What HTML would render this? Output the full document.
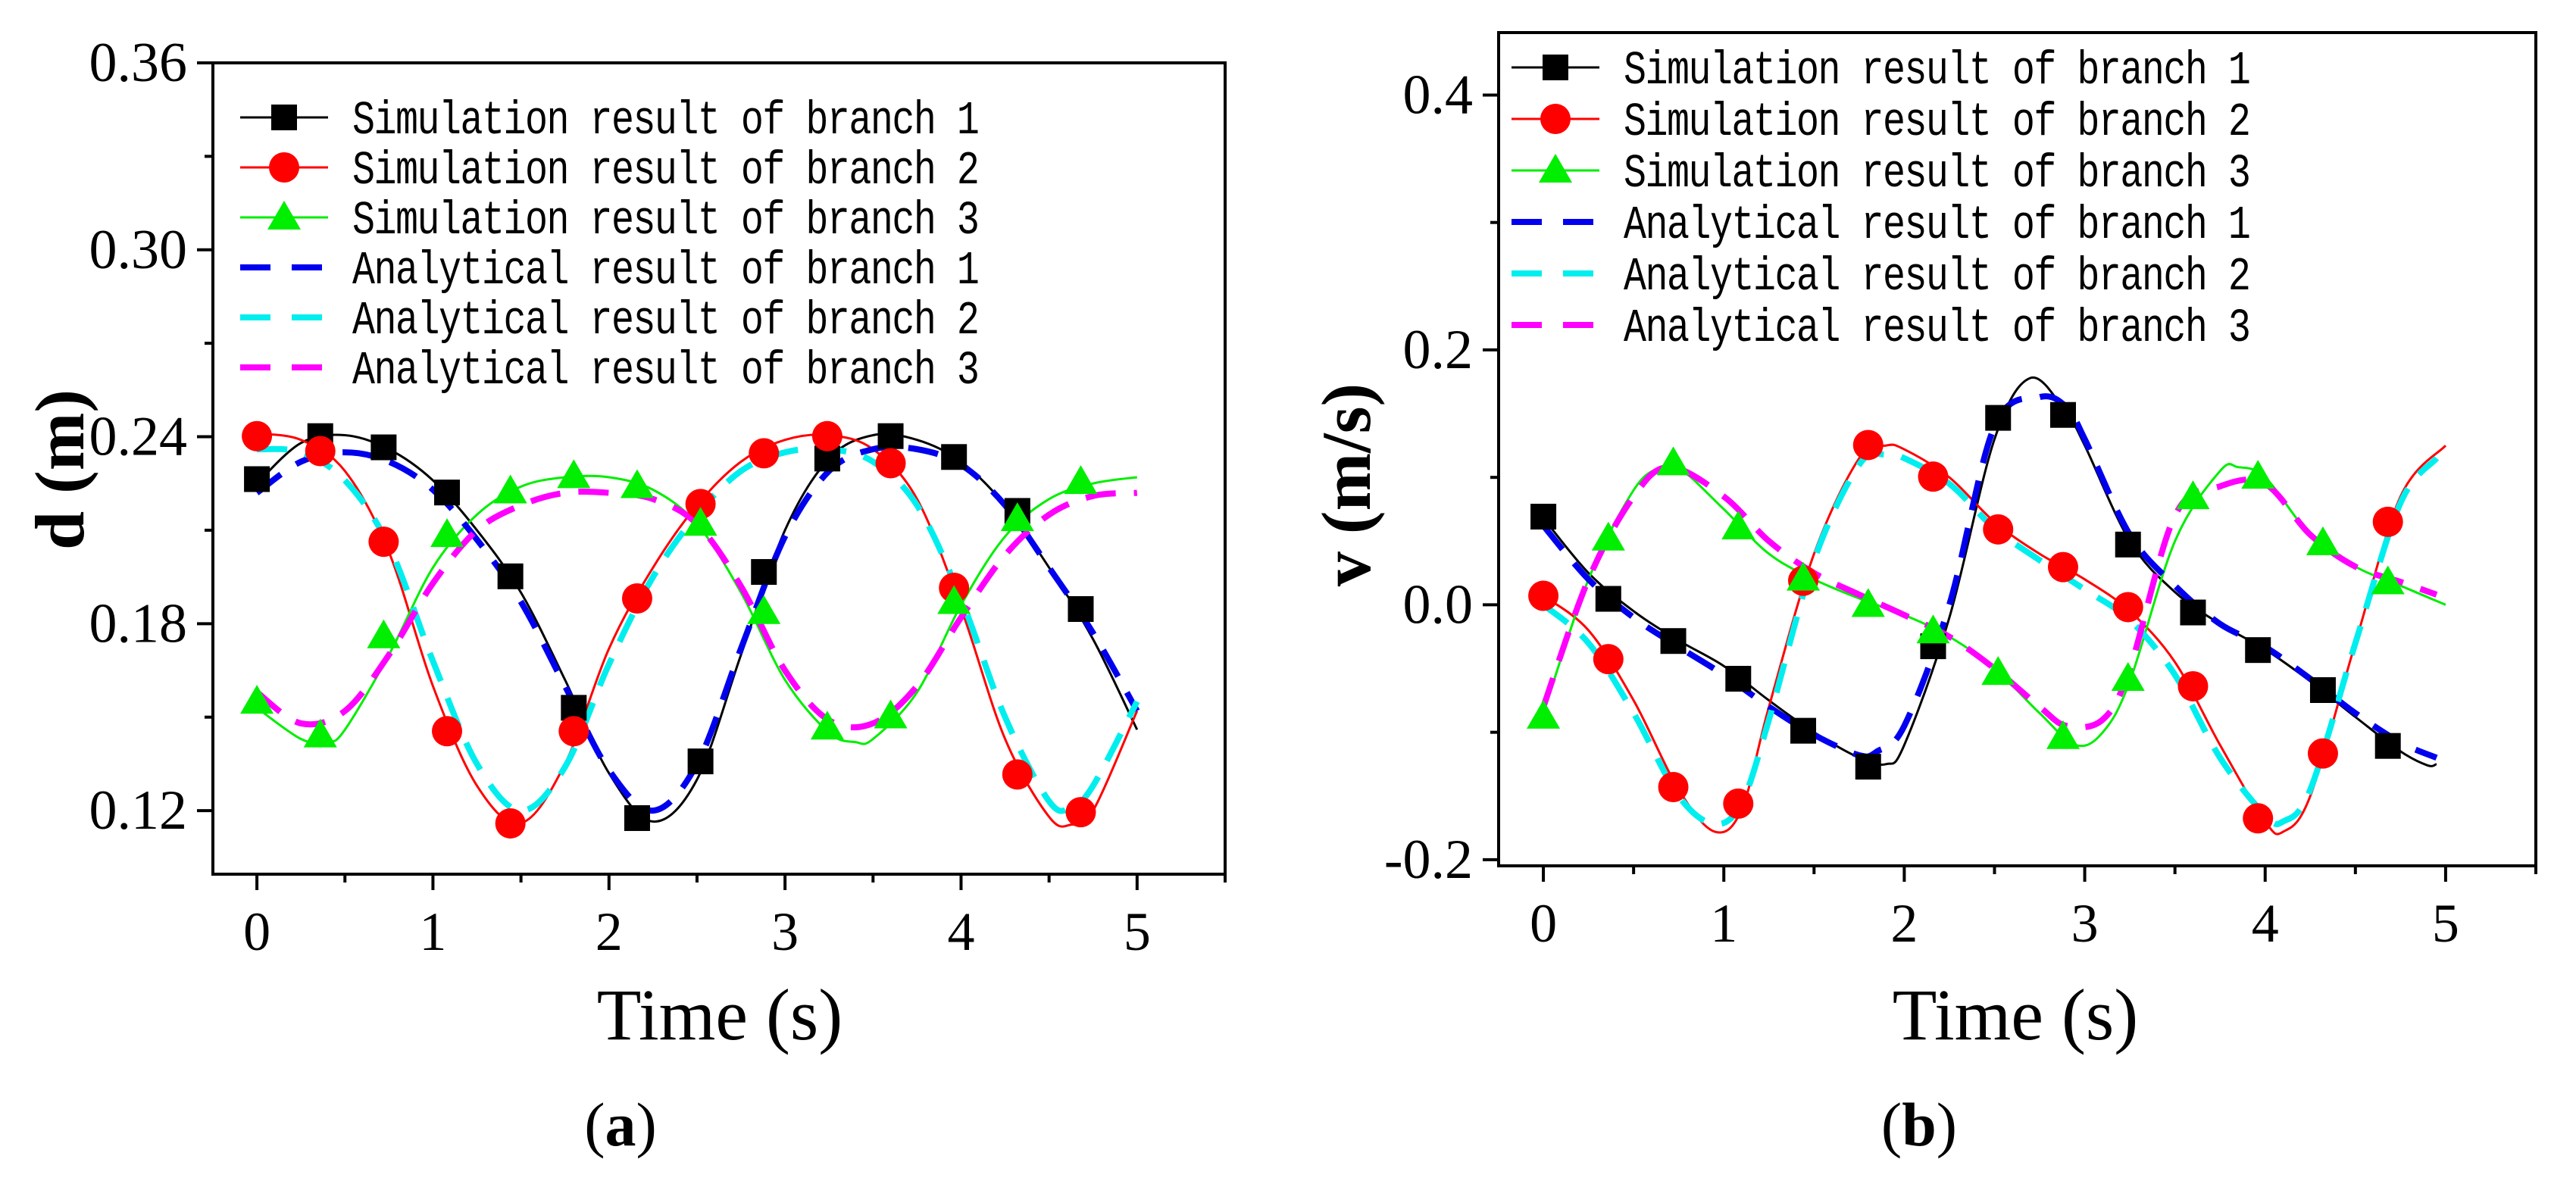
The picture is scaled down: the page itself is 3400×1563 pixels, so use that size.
<!DOCTYPE html>
<html><head><meta charset="utf-8"><style>
html,body{margin:0;padding:0;background:#fff;}
svg{display:block;}
text{font-family:"Liberation Serif",serif;}
.lg{font-family:"Liberation Mono",monospace;font-size:50px;letter-spacing:-1.5px;}
</style></head><body>
<svg id="fig" width="3400" height="1563" viewBox="0 0 3400 1563" xmlns="http://www.w3.org/2000/svg"></svg>
<script>
// ---------- Panel (a) data: displacement d (m) ----------
const markerTimes = [0,0.36,0.72,1.08,1.44,1.8,2.16,2.52,2.88,3.24,3.6,3.96,4.32,4.68];
const aSim1Markers = [0.2264,0.2402,0.2366,0.2221,0.1952,0.153,0.1176,0.1358,0.1966,0.233,0.2402,0.2335,0.2162,0.1847];
const aSim2Markers = [0.2402,0.2354,0.2063,0.1455,0.1159,0.1455,0.1881,0.2184,0.2347,0.2402,0.2315,0.1915,0.1316,0.1195];
const aSim3Markers = [0.155,0.1442,0.176,0.2085,0.2225,0.2274,0.2242,0.2121,0.1838,0.1467,0.1503,0.187,0.2136,0.2255];
const aSim1Curve = [[0,0.225],[0.25,0.238],[0.5,0.2405],[0.75,0.236],[1,0.226],[1.25,0.21],[1.5,0.19],[1.75,0.162],[2,0.132],[2.25,0.1165],[2.5,0.13],[2.75,0.17],[3,0.21],[3.25,0.233],[3.5,0.2405],[3.75,0.239],[4,0.232],[4.25,0.218],[4.5,0.198],[4.75,0.175],[5,0.146]];
const aAna1Curve = [[0,0.222],[0.25,0.232],[0.5,0.235],[0.75,0.232],[1,0.223],[1.25,0.207],[1.5,0.187],[1.75,0.16],[2,0.133],[2.25,0.12],[2.5,0.135],[2.75,0.172],[3,0.208],[3.25,0.229],[3.5,0.236],[3.75,0.236],[4,0.231],[4.25,0.218],[4.5,0.198],[4.75,0.177],[5,0.152]];
const aSim2Curve = [[0,0.241],[0.25,0.239],[0.5,0.229],[0.75,0.203],[1,0.16],[1.25,0.128],[1.5,0.116],[1.75,0.135],[2,0.172],[2.25,0.198],[2.5,0.218],[2.75,0.232],[3,0.239],[3.25,0.2405],[3.5,0.236],[3.75,0.22],[4,0.185],[4.25,0.143],[4.5,0.118],[4.625,0.1155],[4.75,0.12],[5,0.152]];
const aAna2Curve = [[0,0.236],[0.25,0.235],[0.5,0.226],[0.75,0.205],[1,0.168],[1.25,0.135],[1.5,0.12],[1.75,0.134],[2,0.167],[2.25,0.195],[2.5,0.215],[2.75,0.229],[3,0.235],[3.25,0.236],[3.5,0.232],[3.75,0.218],[4,0.188],[4.25,0.15],[4.5,0.123],[4.625,0.121],[4.75,0.128],[5,0.155]];
const aSim3Curve = [[0,0.153],[0.25,0.143],[0.4,0.142],[0.5,0.146],[0.75,0.17],[1,0.198],[1.25,0.215],[1.5,0.224],[1.75,0.227],[2,0.227],[2.25,0.223],[2.5,0.212],[2.75,0.19],[3,0.162],[3.25,0.145],[3.4,0.142],[3.5,0.143],[3.75,0.158],[4,0.186],[4.25,0.208],[4.5,0.22],[4.75,0.225],[5,0.227]];
const aAna3Curve = [[0,0.158],[0.25,0.148],[0.5,0.152],[0.75,0.17],[1,0.193],[1.25,0.21],[1.5,0.218],[1.75,0.222],[2,0.222],[2.25,0.22],[2.5,0.212],[2.75,0.192],[3,0.165],[3.25,0.149],[3.5,0.148],[3.75,0.16],[4,0.182],[4.25,0.202],[4.5,0.215],[4.75,0.221],[5,0.222]];
const aYTicks = [0.12,0.18,0.24,0.30,0.36];
const aYTickLabels = ["0.12","0.18","0.24","0.30","0.36"];
// ---------- Panel (b) data: velocity v (m/s) ----------
const bSim1Markers = [0.0692,0.0047,-0.0284,-0.058,-0.0988,-0.127,-0.0325,0.1467,0.149,0.0473,-0.006,-0.0355,-0.0669,-0.1107];
const bSim2Markers = [0.0071,-0.0426,-0.143,-0.156,0.0189,0.1254,0.1006,0.0592,0.0296,-0.0018,-0.0639,-0.1675,-0.1166,0.0651];
const bSim3Markers = [-0.0876,0.0521,0.1112,0.0609,0.0207,0,-0.0207,-0.0533,-0.1036,-0.058,0.0846,0.1006,0.0485,0.0178];
const bSim1Curve = [[0,0.068],[0.25,0.025],[0.5,-0.005],[0.75,-0.028],[1,-0.048],[1.25,-0.075],[1.5,-0.1],[1.75,-0.12],[1.9,-0.125],[2,-0.11],[2.25,-0.01],[2.5,0.13],[2.7,0.178],[2.9,0.15],[3,0.125],[3.25,0.05],[3.5,0.01],[3.75,-0.015],[4,-0.035],[4.25,-0.06],[4.5,-0.088],[4.75,-0.115],[4.9,-0.126],[4.95,-0.125]];
const bAna1Curve = [[0,0.062],[0.25,0.02],[0.5,-0.01],[0.75,-0.033],[1,-0.055],[1.25,-0.08],[1.5,-0.102],[1.75,-0.118],[1.85,-0.115],[2,-0.095],[2.25,0],[2.5,0.14],[2.75,0.163],[2.9,0.155],[3,0.13],[3.25,0.055],[3.5,0.015],[3.75,-0.015],[4,-0.033],[4.25,-0.058],[4.5,-0.085],[4.75,-0.108],[4.95,-0.12]];
const bSim2Curve = [[0,0.007],[0.25,-0.02],[0.5,-0.075],[0.75,-0.145],[0.95,-0.178],[1.1,-0.16],[1.25,-0.08],[1.5,0.04],[1.75,0.115],[1.9,0.125],[2,0.122],[2.25,0.1],[2.5,0.065],[2.75,0.04],[3,0.02],[3.25,-0.005],[3.5,-0.045],[3.75,-0.11],[4,-0.17],[4.1,-0.178],[4.25,-0.15],[4.5,-0.03],[4.75,0.085],[5,0.125]];
const bAna2Curve = [[0,0],[0.25,-0.03],[0.5,-0.085],[0.75,-0.15],[0.95,-0.172],[1.1,-0.155],[1.25,-0.09],[1.5,0.035],[1.75,0.11],[1.9,0.118],[2,0.115],[2.25,0.095],[2.5,0.06],[2.75,0.035],[3,0.012],[3.25,-0.012],[3.5,-0.055],[3.75,-0.12],[4,-0.165],[4.1,-0.17],[4.25,-0.145],[4.5,-0.03],[4.75,0.08],[4.95,0.115]];
const bSim3Curve = [[0,-0.085],[0.25,0.02],[0.5,0.09],[0.65,0.108],[0.75,0.108],[1,0.075],[1.25,0.04],[1.5,0.02],[1.75,0.005],[2,-0.008],[2.25,-0.025],[2.5,-0.05],[2.75,-0.085],[2.95,-0.11],[3.1,-0.1],[3.25,-0.06],[3.5,0.05],[3.75,0.105],[3.85,0.108],[4,0.1],[4.25,0.055],[4.5,0.03],[4.75,0.015],[5,0]];
const bAna3Curve = [[0,-0.08],[0.25,0.02],[0.5,0.085],[0.7,0.108],[1,0.085],[1.25,0.05],[1.5,0.025],[1.75,0.008],[2,-0.008],[2.25,-0.025],[2.5,-0.05],[2.75,-0.08],[2.9,-0.095],[3.1,-0.09],[3.25,-0.05],[3.5,0.07],[3.75,0.093],[4,0.095],[4.25,0.055],[4.5,0.03],[4.75,0.018],[4.95,0.008]];
const bYTicks = [-0.2,0,0.2,0.4];
const bYTickLabels = ["-0.2","0.0","0.2","0.4"];
const xTicks = [0,1,2,3,4,5];
const xTickLabels = ["0","1","2","3","4","5"];
const legendLabels = ["Simulation result of branch 1","Simulation result of branch 2","Simulation result of branch 3","Analytical result of branch 1","Analytical result of branch 2","Analytical result of branch 3"];

const NS="http://www.w3.org/2000/svg";
const svg=document.getElementById('fig');
function mk(tag,attrs,parent){const e=document.createElementNS(NS,tag);for(const k in attrs)e.setAttribute(k,attrs[k]);(parent||svg).appendChild(e);return e;}
function pathFrom(pts){
  let d="M"+pts[0][0].toFixed(1)+","+pts[0][1].toFixed(1);
  for(let i=0;i<pts.length-1;i++){
    const p0=pts[Math.max(0,i-1)],p1=pts[i],p2=pts[i+1],p3=pts[Math.min(pts.length-1,i+2)];
    const c1x=p1[0]+(p2[0]-p0[0])/6,c1y=p1[1]+(p2[1]-p0[1])/6;
    const c2x=p2[0]-(p3[0]-p1[0])/6,c2y=p2[1]-(p3[1]-p1[1])/6;
    d+=" C"+c1x.toFixed(1)+","+c1y.toFixed(1)+" "+c2x.toFixed(1)+","+c2y.toFixed(1)+" "+p2[0].toFixed(1)+","+p2[1].toFixed(1);
  }
  return d;
}
function marker(g,type,x,y,color){
  let e;
  if(type==='square'){e=mk('rect',{x:x-17,y:y-17,width:34,height:34,fill:color},g);}
  else if(type==='circle'){e=mk('circle',{cx:x,cy:y,r:20,fill:color},g);}
  else {e=mk('polygon',{points:`${x},${y-22} ${x+22},${y+16} ${x-22},${y+16}`,fill:color},g);}
  
  
}
function panel(cfg){
  const g=mk('g',{});
  
  
  const X=t=>cfg.x0+(t-cfg.xmin)/(cfg.xmax-cfg.xmin)*(cfg.x1-cfg.x0);
  const Y=v=>cfg.y1-(v-cfg.ymin)/(cfg.ymax-cfg.ymin)*(cfg.y1-cfg.y0);
  const fr=mk('rect',{x:cfg.x0,y:cfg.y0,width:cfg.x1-cfg.x0,height:cfg.y1-cfg.y0,fill:'none',stroke:'#000','stroke-width':4},g);
  
  xTicks.forEach((t,i)=>{
    mk('line',{x1:X(t),y1:cfg.y1,x2:X(t),y2:cfg.y1+21,stroke:'#000','stroke-width':4},g);
    if(t<5){mk('line',{x1:X(t+0.5),y1:cfg.y1,x2:X(t+0.5),y2:cfg.y1+11,stroke:'#000','stroke-width':4},g);}
    const tx=mk('text',{x:X(t),y:cfg.y1+100,'font-size':72,'text-anchor':'middle'},g);tx.textContent=xTickLabels[i];
    
  });
  mk('line',{x1:cfg.x1,y1:cfg.y1,x2:cfg.x1,y2:cfg.y1+11,stroke:'#000','stroke-width':4},g);
  cfg.yTicks.forEach((v,i)=>{
    mk('line',{x1:cfg.x0-21,y1:Y(v),x2:cfg.x0,y2:Y(v),stroke:'#000','stroke-width':4},g);
    const tx=mk('text',{x:cfg.x0-34,y:Y(v)+24,'font-size':74,'text-anchor':'end'},g);tx.textContent=cfg.yLabels[i];
    
  });
  cfg.yMinor.forEach(v=>{mk('line',{x1:cfg.x0-11,y1:Y(v),x2:cfg.x0,y2:Y(v),stroke:'#000','stroke-width':4},g);});
  const yt=mk('text',{x:0,y:0,'font-size':92,'font-weight':'bold','text-anchor':'middle',transform:`translate(${cfg.ytx},${cfg.yty}) rotate(-90)`},g);
  yt.textContent=cfg.ytitle;
  const xt=mk('text',{x:cfg.xtx,y:1372,'font-size':96,'text-anchor':'middle'},g);
  xt.textContent='Time (s)';
  const cap=mk('text',{x:cfg.capx,y:1512,'font-size':82,'text-anchor':'middle'},g);
  cap.innerHTML='(<tspan font-weight="bold">'+cfg.cap+'</tspan>)';
  
  const sims=[[cfg.s1,'#000'],[cfg.s2,'#ff0000'],[cfg.s3,'#00ee00']];
  sims.forEach(([c,col],i)=>{
    const p=mk('path',{d:pathFrom(c.map(q=>[X(q[0]),Y(q[1])])),fill:'none',stroke:col,'stroke-width':3},g);
    
  });
  const anas=[[cfg.a1,'#0000ee'],[cfg.a2,'#00eeee'],[cfg.a3,'#ff00ff']];
  anas.forEach(([c,col],i)=>{
    const p=mk('path',{d:pathFrom(c.map(q=>[X(q[0]),Y(q[1])])),fill:'none',stroke:col,'stroke-width':8,'stroke-dasharray':'40 24'},g);
    
  });
  const mks=[[cfg.m1,'square','#000'],[cfg.m2,'circle','#ff0000'],[cfg.m3,'triangle','#00ee00']];
  mks.forEach(([arr,ty,col])=>{arr.forEach((v,i)=>marker(g,ty,X(markerTimes[i]),Y(v),col));});
  const lg=mk('g',{},g);
  
  const cols=['#000','#ff0000','#00ee00','#0000ee','#00eeee','#ff00ff'];
  const types=['square','circle','triangle'];
  legendLabels.forEach((lab,i)=>{
    const y=cfg.ly0+i*cfg.ldy;
    const e=mk('g',{},lg);
    
    if(i<3){
      mk('line',{x1:cfg.lx,y1:y,x2:cfg.lx+116,y2:y,stroke:cols[i],'stroke-width':3},e);
      marker(e,types[i],cfg.lx+58,y,cols[i]);
    } else {
      mk('line',{x1:cfg.lx,y1:y,x2:cfg.lx+116,y2:y,stroke:cols[i],'stroke-width':8,'stroke-dasharray':'40 28'},e);
    }
    const t=mk('text',{x:0,y:0,'class':'lg',transform:`translate(${cfg.lx+148},${y+21}) scale(1,1.25)`},e);t.textContent=lab;
  });
}
panel({name:'panel-a-displacement',x0:281,x1:1617,y0:83,y1:1154,xmin:-0.25,xmax:5.5,ymin:0.0996,ymax:0.36,
  yTicks:aYTicks,yLabels:aYTickLabels,yMinor:[0.15,0.21,0.27,0.33],ytitle:'d (m)',ytx:110,yty:620,xtx:950,capx:819,cap:'a',
  s1:aSim1Curve,s2:aSim2Curve,s3:aSim3Curve,a1:aAna1Curve,a2:aAna2Curve,a3:aAna3Curve,m1:aSim1Markers,m2:aSim2Markers,m3:aSim3Markers,
  lx:317,ly0:155,ldy:66});
panel({name:'panel-b-velocity',x0:1978,x1:3347,y0:43,y1:1143,xmin:-0.248,xmax:5.5,ymin:-0.2048,ymax:0.449,
  yTicks:bYTicks,yLabels:bYTickLabels,yMinor:[-0.1,0.1,0.3],ytitle:'v (m/s)',ytx:1808,yty:640,xtx:2660,capx:2533,cap:'b',
  s1:bSim1Curve,s2:bSim2Curve,s3:bSim3Curve,a1:bAna1Curve,a2:bAna2Curve,a3:bAna3Curve,m1:bSim1Markers,m2:bSim2Markers,m3:bSim3Markers,
  lx:1995,ly0:89,ldy:68});
</script>
</body></html>
